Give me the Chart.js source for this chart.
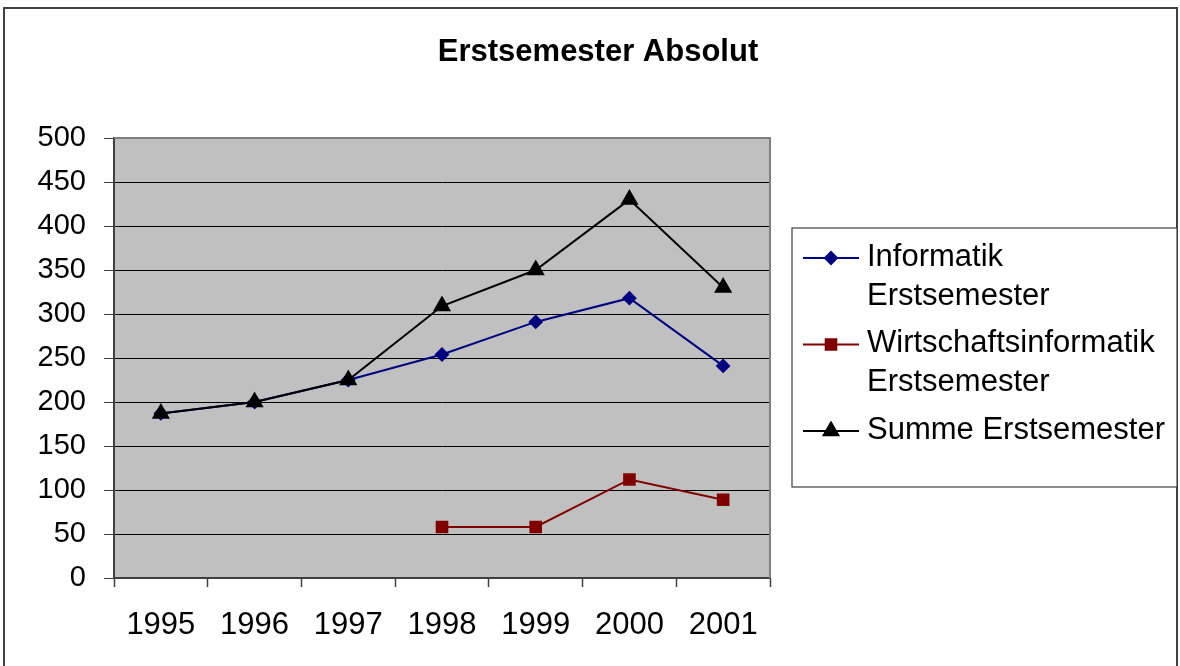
<!DOCTYPE html>
<html>
<head>
<meta charset="utf-8">
<script src="https://cdn.jsdelivr.net/npm/chart.js@4"></script>
<style>
  html, body { margin: 0; padding: 0; background: #fff; }
  #wrap { width: 1180px; height: 666px; position: relative; }
</style>
</head>
<body>
<div id="wrap"><canvas id="chart"></canvas></div>
<script>
  const years = ["1995", "1996", "1997", "1998", "1999", "2000", "2001"];
  const informatik = [187, 200, 225, 254, 291, 318, 241];
  const wirtschaftsinformatik = [null, null, null, 58, 58, 112, 89];
  const summe = [187, 200, 225, 309, 350, 430, 330];
  const seriesNames = ["Informatik Erstsemester", "Wirtschaftsinformatik Erstsemester", "Summe Erstsemester"];
  const yMin = 0, yMax = 500, yStep = 50;

  const FONT = '"Liberation Sans", Arial, sans-serif';

  // grey plot area + outer frame
  const backdrop = {
    id: 'backdrop',
    beforeDraw(chart) {
      const { ctx, chartArea: a } = chart;
      ctx.save();
      ctx.fillStyle = "#c0c0c0";
      ctx.fillRect(a.left, a.top, a.right - a.left, a.bottom - a.top);
      ctx.strokeStyle = "#404040";
      ctx.lineWidth = 2;
      ctx.strokeRect(4, 8, 1173, 700);
      ctx.restore();
    },
    beforeDatasetsDraw(chart) {
      const { ctx, chartArea: a } = chart;
      ctx.save();
      ctx.strokeStyle = "#808080";
      ctx.lineWidth = 2;
      ctx.beginPath();
      ctx.moveTo(a.left, a.top);
      ctx.lineTo(a.right, a.top);
      ctx.lineTo(a.right, a.bottom);
      ctx.stroke();
      ctx.restore();
    }
  };

  // legend box on the right, labels wrap like the original
  const sideLegend = {
    id: 'sideLegend',
    afterDraw(chart) {
      const ctx = chart.ctx;
      const bx = 792, by = 228, bw = 385, bh = 259;
      ctx.save();
      ctx.fillStyle = "#fff";
      ctx.fillRect(bx, by, bw, bh);
      ctx.strokeStyle = "#404040";
      ctx.lineWidth = 1.2;
      ctx.strokeRect(bx, by, bw, bh);

      ctx.font = "31px " + FONT;
      ctx.textBaseline = "middle";
      ctx.textAlign = "left";
      const textX = 867, maxW = bx + bw - textX - 4;
      let y = 257;
      chart.data.datasets.forEach(ds => {
        // wrap words
        const words = ds.label.split(" ");
        const lines = [];
        let cur = "";
        words.forEach(w => {
          const test = cur ? cur + " " + w : w;
          if (cur && ctx.measureText(test).width > maxW) { lines.push(cur); cur = w; }
          else cur = test;
        });
        lines.push(cur);

        ctx.strokeStyle = ds.borderColor;
        ctx.lineWidth = 2;
        ctx.beginPath();
        ctx.moveTo(803, y + 1);
        ctx.lineTo(859, y + 1);
        ctx.stroke();
        ctx.fillStyle = ds.pointBackgroundColor;
        ctx.strokeStyle = ds.pointBorderColor;
        Chart.helpers.drawPoint(ctx, {
          pointStyle: ds.pointStyle, radius: ds.pointRadius, rotation: 0, borderWidth: 1
        }, 831, y + 1);

        ctx.fillStyle = "#000";
        lines.forEach((ln, i) => ctx.fillText(ln, textX, y + i * 39));
        y += (lines.length - 1) * 39 + 47.5;
      });
      ctx.restore();
    }
  };

  new Chart(document.getElementById("chart"), {
    type: 'line',
    data: {
      labels: years,
      datasets: [{
        label: seriesNames[0],
        data: informatik,
        borderColor: "#000080",
        backgroundColor: "#000080",
        pointBackgroundColor: "#000080",
        pointBorderColor: "#000080",
        pointStyle: 'rectRot',
        pointRadius: 6,
        borderWidth: 2,
        order: 2
      }, {
        label: seriesNames[1],
        data: wirtschaftsinformatik,
        borderColor: "#800000",
        backgroundColor: "#800000",
        pointBackgroundColor: "#800000",
        pointBorderColor: "#800000",
        pointStyle: 'rect',
        pointRadius: 7.5,
        borderWidth: 2,
        order: 1
      }, {
        label: seriesNames[2],
        data: summe,
        borderColor: "#000000",
        backgroundColor: "#000000",
        pointBackgroundColor: "#000000",
        pointBorderColor: "#000000",
        pointStyle: 'triangle',
        pointRadius: 8.5,
        borderWidth: 2,
        order: 0
      }]
    },
    options: {
      responsive: true,
      maintainAspectRatio: false,
      animation: false,
      layout: { padding: { left: 16, right: 0, top: 0, bottom: 0 } },
      elements: {
        line: { tension: 0, spanGaps: false },
        point: { borderWidth: 1, hoverRadius: 7 }
      },
      scales: {
        x: {
          type: 'category',
          offset: true,
          grid: {
            offset: true,
            drawOnChartArea: false,
            tickLength: 9,
            tickColor: "#404040",
            tickWidth: 1.5
          },
          border: { color: "#404040", width: 2 },
          ticks: {
            color: "#000",
            font: { family: FONT, size: 31 },
            padding: 20,
            maxRotation: 0
          },
          afterFit(s) { s.height = 88; }
        },
        y: {
          min: yMin,
          max: yMax,
          ticks: {
            stepSize: yStep,
            color: "#000",
            font: { family: FONT, size: 29 },
            padding: 18
          },
          grid: {
            color: "#000",
            lineWidth: 1,
            tickLength: 10,
            tickColor: "#404040"
          },
          border: { color: "#404040", width: 2 },
          afterFit(s) { s.width = 98; }
        },
        side: {
          position: 'right',
          display: true,
          grid: { display: false },
          border: { display: false },
          ticks: { display: false },
          afterFit(s) { s.width = 410; }
        }
      },
      plugins: {
        legend: { display: false },
        tooltip: { enabled: false },
        title: {
          display: true,
          text: "Erstsemester Absolut",
          color: "#000",
          font: { family: FONT, size: 31, weight: 'bold' },
          padding: { top: 34, bottom: 66.8 }
        }
      }
    },
    plugins: [backdrop, sideLegend]
  });
</script>
</body>
</html>
